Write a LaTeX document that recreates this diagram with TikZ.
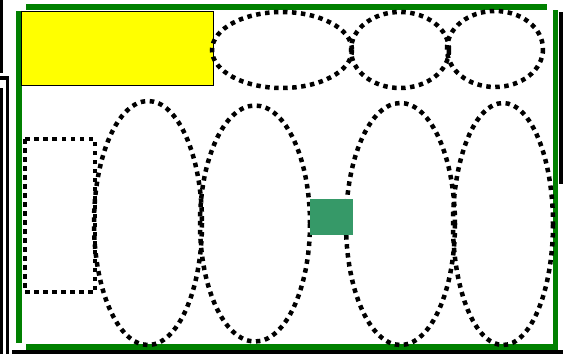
\documentclass[tikz,border=0pt]{standalone}
\begin{document}
\begin{tikzpicture}[x=1pt,y=-1pt,
  dotline/.style={draw=black,line width=4.5pt,dash pattern=on 4.5pt off 4.5pt},
  greenbar/.style={fill=green!50!black,draw=none},
  blackbar/.style={fill=black,draw=none}]
\useasboundingbox (0,0) rectangle (563,354);
\fill[white] (0,0) rectangle (563,354);
% black frame pieces
\fill[blackbar] (0,0) rectangle (3,73);
\fill[blackbar] (0,76) rectangle (9,80);
\fill[blackbar] (5.5,76) rectangle (9,354);
\fill[blackbar] (0,88) rectangle (3,354);
\fill[blackbar] (12,350) rectangle (563,354);
\fill[blackbar] (558.5,12) rectangle (563,184);
% green frame
\fill[greenbar] (26,4) rectangle (547,10);
\fill[greenbar] (16,11) rectangle (22,343);
\fill[greenbar] (26,344) rectangle (558,349.5);
\fill[greenbar] (552.5,10) rectangle (558,349.5);
% yellow box
\node[draw=black,line width=1.3pt,fill={rgb,255:red,255;green,255;blue,0},minimum width=192pt,minimum height=74.5pt,inner sep=0pt,anchor=north west] (yb) at (20.5,10.5) {};
% top ellipses
\draw[dotline] (282,50) ellipse [x radius=70,y radius=38];
\draw[dotline] (400,50) ellipse [x radius=49,y radius=38];
\draw[dotline] (495,49) ellipse [x radius=48,y radius=38];
% bottom ellipses
\draw[dotline] (148,223) ellipse [x radius=54,y radius=122];
\draw[dotline] (255,223.5) ellipse [x radius=55,y radius=118];
\draw[dotline] (400.5,224) ellipse [x radius=54.5,y radius=121];
\draw[dotline] (503,224) ellipse [x radius=50,y radius=121];
% dotted rectangle
\draw[dotline] (25,139) rectangle (95,292);
% green square
\node[fill={rgb,255:red,54;green,153;blue,104},draw=none,minimum width=43pt,minimum height=36pt,inner sep=0pt,anchor=north west] (gs) at (310,199) {};
\end{tikzpicture}
\end{document}
